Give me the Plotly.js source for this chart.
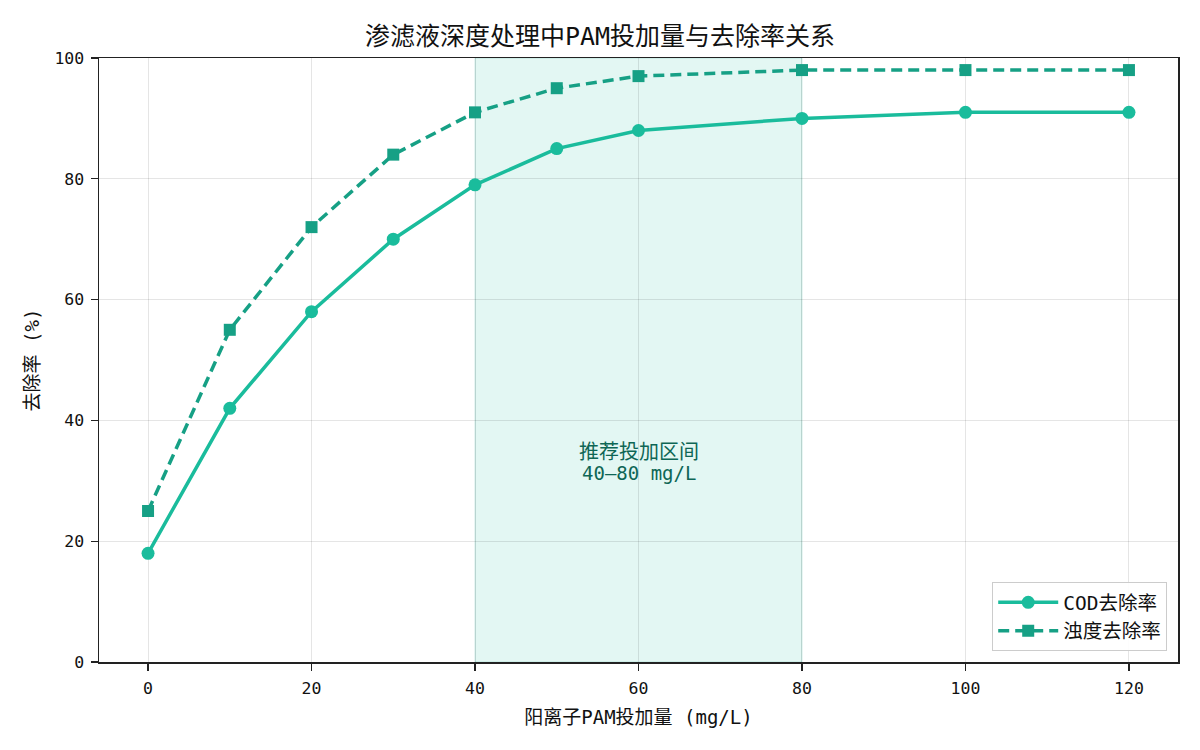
<!DOCTYPE html>
<html><head><meta charset="utf-8">
<script src="https://cdn.plot.ly/plotly-3.0.1.min.js"></script>
<style>body{margin:0;background:#fff}#c{width:1200px;height:750px}</style>
</head><body><div id="c"></div>
<script>
const dose = [0, 10, 20, 30, 40, 50, 60, 80, 100, 120];
const codRemoval = [18, 42, 58, 70, 79, 85, 88, 90, 91, 91];
const turbidityRemoval = [25, 55, 72, 84, 91, 95, 97, 98, 98, 98];
const seriesNames = ['COD去除率', '浊度去除率'];
const recommendedRange = [40, 80];
const xTicks = [0, 20, 40, 60, 80, 100, 120];
const yTicks = [0, 20, 40, 60, 80, 100];

const FONT = '"DejaVu Sans Mono", "Noto Sans CJK SC", sans-serif';

const traces = [
  {x: dose, y: codRemoval, name: seriesNames[0], type: 'scatter', mode: 'lines+markers',
   line: {color: '#1abc9c', width: 3.5}, marker: {symbol: 'circle', size: 13, color: '#1abc9c'}},
  {x: dose, y: turbidityRemoval, name: seriesNames[1], type: 'scatter', mode: 'lines+markers',
   line: {color: '#16a085', width: 3.5, dash: '11px,6px'}, marker: {symbol: 'square', size: 12, color: '#16a085'}}
];

const midX = (recommendedRange[0] + recommendedRange[1]) / 2;
const layout = {
  width: 1200, height: 750,
  margin: {l: 99, r: 22, t: 58, b: 88},
  paper_bgcolor: '#fff', plot_bgcolor: '#fff',
  font: {family: FONT, size: 16, color: '#111'},
  title: {text: '渗滤液深度处理中PAM投加量与去除率关系', x: 0.5, xanchor: 'center', y: 0.952, yanchor: 'middle',
          font: {family: FONT, size: 25, color: '#111'}},
  xaxis: {range: [-6, 126], tickvals: xTicks, ticks: 'outside', ticklen: 7, tickcolor: '#222', tickwidth: 1.3,
          ticklabelstandoff: 4,
          showgrid: true, gridcolor: 'rgba(0,0,0,0.1)', gridwidth: 1, zeroline: false,
          showline: true, linecolor: '#222', linewidth: 1.5, mirror: true,
          tickfont: {size: 16.5}, title: {text: '阳离子PAM投加量 (mg/L)', font: {size: 19}, standoff: 13}},
  yaxis: {range: [0, 100], tickvals: yTicks, ticks: 'outside', ticklen: 7, tickcolor: '#222', tickwidth: 1.3,
          ticklabelstandoff: 3,
          showgrid: true, gridcolor: 'rgba(0,0,0,0.1)', gridwidth: 1, zeroline: false,
          showline: true, linecolor: '#222', linewidth: 1.5, mirror: true,
          tickfont: {size: 16.5}, title: {text: '去除率 (%)', font: {size: 19}, standoff: 9}},
  shapes: [{type: 'rect', xref: 'x', yref: 'paper', x0: recommendedRange[0], x1: recommendedRange[1], y0: 0, y1: 1,
            fillcolor: 'rgba(26,188,156,0.12)', line: {color: 'rgba(22,160,133,0.2)', width: 1}, layer: 'below'}],
  annotations: [
    {x: midX, y: 33, xref: 'x', yref: 'y', yshift: 10.5, text: '推荐投加区间',
     showarrow: false, font: {family: FONT, size: 20, color: '#0e6655'}},
    {x: midX, y: 33, xref: 'x', yref: 'y', yshift: -10.5,
     text: recommendedRange[0] + '–' + recommendedRange[1] + ' mg/L',
     showarrow: false, font: {family: FONT, size: 19, color: '#0e6655'}}
  ],
  legend: {x: 0.99, y: 0.018, xanchor: 'right', yanchor: 'bottom', bgcolor: 'rgba(255,255,255,0.9)',
           bordercolor: '#ccc', borderwidth: 1, font: {size: 19.5}, itemwidth: 60, tracegroupgap: 4},
  showlegend: true
};
Plotly.newPlot('c', traces, layout, {displayModeBar: false, staticPlot: true});
</script></body></html>
